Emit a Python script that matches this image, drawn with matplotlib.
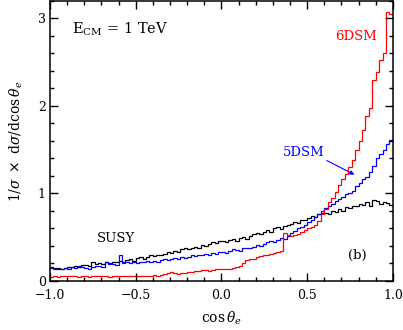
import numpy as np
import matplotlib
matplotlib.use("Agg")
import matplotlib.pyplot as plt
from matplotlib.ticker import MultipleLocator

plt.rcParams['font.family'] = ['DejaVu Serif']
plt.rcParams['mathtext.fontset'] = 'dejavuserif'

# 100 bins of cos(theta_e) from -1 to 1
bin_edges = np.linspace(-1.0, 1.0, 101)

susy = [0.16, 0.15, 0.15, 0.14, 0.15, 0.16, 0.16, 0.17, 0.16, 0.18,
        0.18, 0.17, 0.21, 0.19, 0.20, 0.19, 0.21, 0.20, 0.22, 0.21,
        0.23, 0.22, 0.24, 0.25, 0.23, 0.26, 0.27, 0.25, 0.27, 0.29,
        0.28, 0.30, 0.29, 0.31, 0.33, 0.32, 0.34, 0.33, 0.36, 0.37,
        0.36, 0.38, 0.39, 0.38, 0.41, 0.40, 0.42, 0.44, 0.43, 0.45,
        0.46, 0.44, 0.47, 0.48, 0.46, 0.49, 0.50, 0.48, 0.51, 0.53,
        0.55, 0.53, 0.56, 0.58, 0.56, 0.60, 0.61, 0.59, 0.63, 0.64,
        0.65, 0.67, 0.66, 0.70, 0.69, 0.72, 0.74, 0.73, 0.76, 0.77,
        0.78, 0.76, 0.80, 0.79, 0.82, 0.80, 0.84, 0.83, 0.86, 0.85,
        0.88, 0.87, 0.90, 0.86, 0.93, 0.91, 0.88, 0.90, 0.89, 0.87]

dsm5 = [0.15, 0.14, 0.14, 0.13, 0.15, 0.14, 0.16, 0.15, 0.17, 0.16,
        0.15, 0.14, 0.16, 0.17, 0.17, 0.16, 0.21, 0.19, 0.19, 0.18,
        0.29, 0.20, 0.22, 0.20, 0.21, 0.20, 0.21, 0.22, 0.23, 0.22,
        0.23, 0.22, 0.24, 0.25, 0.24, 0.25, 0.26, 0.25, 0.27, 0.26,
        0.27, 0.29, 0.28, 0.30, 0.29, 0.31, 0.30, 0.32, 0.31, 0.33,
        0.33, 0.32, 0.34, 0.36, 0.35, 0.34, 0.37, 0.38, 0.37, 0.39,
        0.41, 0.40, 0.42, 0.44, 0.45, 0.44, 0.47, 0.49, 0.48, 0.51,
        0.55, 0.57, 0.60, 0.62, 0.64, 0.67, 0.70, 0.73, 0.76, 0.80,
        0.83, 0.86, 0.88, 0.91, 0.94, 0.96, 0.99, 1.00, 1.03, 1.08,
        1.12, 1.16, 1.19, 1.25, 1.31, 1.40, 1.45, 1.50, 1.57, 1.61]

dsm6 = [0.04, 0.05, 0.04, 0.05, 0.05, 0.06, 0.05, 0.05, 0.04, 0.05,
        0.05, 0.04, 0.05, 0.05, 0.06, 0.05, 0.05, 0.04, 0.05, 0.05,
        0.06, 0.05, 0.05, 0.06, 0.05, 0.05, 0.06, 0.05, 0.06, 0.06,
        0.07, 0.06, 0.07, 0.08, 0.09, 0.10, 0.09, 0.08, 0.09, 0.09,
        0.10, 0.10, 0.11, 0.11, 0.12, 0.12, 0.11, 0.12, 0.13, 0.13,
        0.13, 0.14, 0.14, 0.15, 0.16, 0.17, 0.20, 0.24, 0.25, 0.25,
        0.27, 0.28, 0.30, 0.30, 0.31, 0.32, 0.33, 0.34, 0.55, 0.52,
        0.51, 0.52, 0.53, 0.56, 0.58, 0.60, 0.62, 0.64, 0.68, 0.76,
        0.82, 0.90, 0.95, 1.02, 1.10, 1.17, 1.22, 1.30, 1.38, 1.50,
        1.60, 1.72, 1.88, 1.98, 2.30, 2.39, 2.52, 2.60, 3.07, 3.05]

x_tick_values = [-1.0, -0.5, 0.0, 0.5, 1.0]
x_tick_labels = ['\u22121.0', '\u22120.5', '0.0', '0.5', '1.0']

fig = plt.figure(figsize=(4.03, 3.30), dpi=100)
ax = fig.add_axes([0.124, 0.149, 0.851, 0.848])

ax.stairs(susy, bin_edges, baseline=None, color='black', lw=0.9)
ax.stairs(dsm5, bin_edges, baseline=None, color='blue', lw=0.9)
ax.stairs(dsm6, bin_edges, baseline=None, color='red', lw=0.9)

ax.set_xlim(-1.0, 1.0)
ax.set_ylim(0, 3.2)
ax.xaxis.set_minor_locator(MultipleLocator(0.1))
ax.yaxis.set_major_locator(MultipleLocator(1))
ax.yaxis.set_minor_locator(MultipleLocator(0.2))
ax.set_xticks(x_tick_values)
ax.set_xticklabels(x_tick_labels)
ax.tick_params(which='both', direction='in', top=True, right=True,
               labelsize=9, width=1.0)
ax.tick_params(which='major', length=6)
ax.tick_params(which='minor', length=3)
ax.tick_params(axis='x', which='major', pad=6)
ax.tick_params(axis='y', which='major', pad=3)
for s in ax.spines.values():
    s.set_linewidth(1.1)

ax.set_xlabel(r'$\cos\theta_e$', fontsize=10, labelpad=5)
ax.set_ylabel(r'$1/\sigma\ \times\ \mathrm{d}\sigma/\mathrm{d}\cos\theta_e$',
              fontsize=10, labelpad=9)

ax.text(-0.87, 2.88, r'E$_{\rm CM}$ = 1 TeV', fontsize=10.5, va='center', ha='left')
ax.text(0.785, 2.79, '6DSM', color='red', fontsize=9.5, ha='center', va='center')
ax.text(0.48, 1.47, '5DSM', color='blue', fontsize=9.5, ha='center', va='center')
ax.text(-0.615, 0.48, 'SUSY', color='black', fontsize=9.5, ha='center', va='center')
ax.text(0.79, 0.29, '(b)', color='black', fontsize=9.5, ha='center', va='center')
ax.annotate('', xy=(0.79, 1.20), xytext=(0.60, 1.39),
            arrowprops=dict(arrowstyle='-|>', color='blue', lw=0.8,
                            mutation_scale=6))

fig.savefig('out.png', dpi=100)
